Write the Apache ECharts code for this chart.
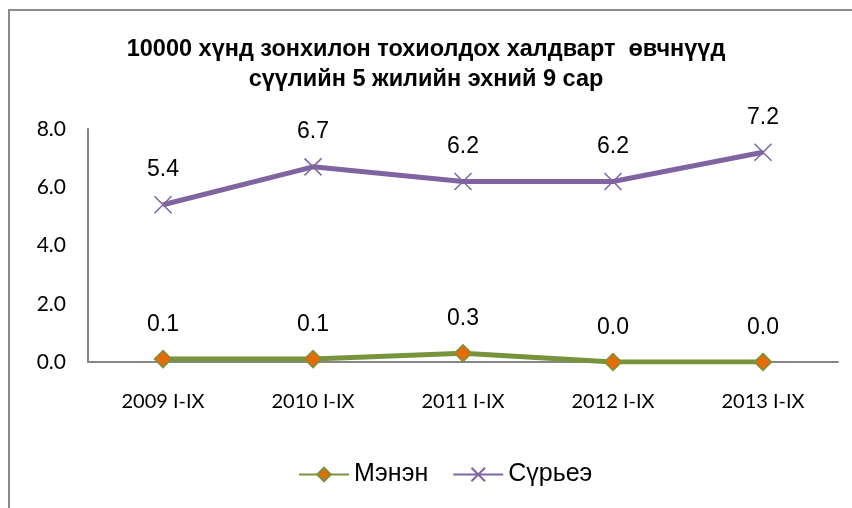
<!DOCTYPE html>
<html>
<head>
<meta charset="utf-8">
<script src="https://cdn.jsdelivr.net/npm/echarts@6/dist/echarts.min.js"></script>
<style>
  html, body { margin: 0; padding: 0; background: #fff; }
  #main { width: 852px; height: 508px; }
</style>
</head>
<body>
<div id="main"></div>
<script>
// categories and values
const years = ["2009 I-IX", "2010 I-IX", "2011 I-IX", "2012 I-IX", "2013 I-IX"];
const menen = [0.1, 0.1, 0.3, 0.0, 0.0];
const suriee = [5.4, 6.7, 6.2, 6.2, 7.2];
const yTicks = [0, 2, 4, 6, 8];

const chart = echarts.init(document.getElementById("main"));

const labelStyle = {
  show: true,
  position: "top",
  distance: 14,
  fontFamily: "Liberation Sans, Arial, sans-serif",
  fontSize: 23,
  color: "#000",
  formatter: (p) => p.value.toFixed(1),
};

const crossPath = "path://M0,0L10,10M10,0L0,10";

chart.setOption({
  animation: false,
  title: {
    text: "10000 хүнд зонхилон тохиолдох халдварт  өвчнүүд\nсүүлийн 5 жилийн эхний 9 сар",
    left: "center",
    top: 30,
    textStyle: {
      fontFamily: "Liberation Sans, Arial, sans-serif",
      fontWeight: "bold",
      fontSize: 23.5,
      lineHeight: 30,
      color: "#000",
    },
  },
  graphic: [
    {
      type: "rect",
      shape: { x: 9, y: 10, width: 900, height: 600 },
      style: { fill: "none", stroke: "#8c8c8c", lineWidth: 2 },
      silent: true,
    },
  ],
  grid: { left: 88, right: 14, top: 129, bottom: 146 },
  xAxis: {
    type: "category",
    data: years,
    axisLine: { lineStyle: { color: "#868686", width: 2 } },
    axisTick: { show: false },
    axisLabel: {
      margin: 30,
      fontFamily: "Lato, Carlito, sans-serif",
      fontSize: 20,
      color: "#000",
    },
  },
  yAxis: {
    type: "value",
    min: yTicks[0],
    max: yTicks[yTicks.length - 1],
    interval: 2,
    axisLine: { show: true, lineStyle: { color: "#868686", width: 2 } },
    axisTick: { show: false },
    splitLine: { show: false },
    axisLabel: {
      margin: 22,
      fontFamily: "Lato, Carlito, sans-serif",
      fontSize: 21,
      color: "#000",
      formatter: (v) => v.toFixed(1),
    },
  },
  legend: {
    bottom: 16,
    left: 293,
    itemWidth: 50,
    itemHeight: 17,
    itemGap: 24,
    textStyle: {
      fontFamily: "Liberation Sans, Arial, sans-serif",
      fontSize: 25,
      color: "#000",
    },
    data: ["Мэнэн", "Сүрьеэ"],
  },
  series: [
    {
      name: "Мэнэн",
      type: "line",
      data: menen,
      symbol: "diamond",
      symbolSize: 17,
      lineStyle: { color: "#77933C", width: 5 },
      itemStyle: { color: "#E36C09", borderColor: "#77933C", borderWidth: 1.5 },
      label: labelStyle,
    },
    {
      name: "Сүрьеэ",
      type: "line",
      data: suriee,
      symbol: crossPath,
      symbolSize: 17,
      lineStyle: { color: "#8064A2", width: 5 },
      itemStyle: { color: "#8064A2", borderColor: "#8064A2", borderWidth: 1.5 },
      label: labelStyle,
    },
  ],
});
</script>
</body>
</html>
